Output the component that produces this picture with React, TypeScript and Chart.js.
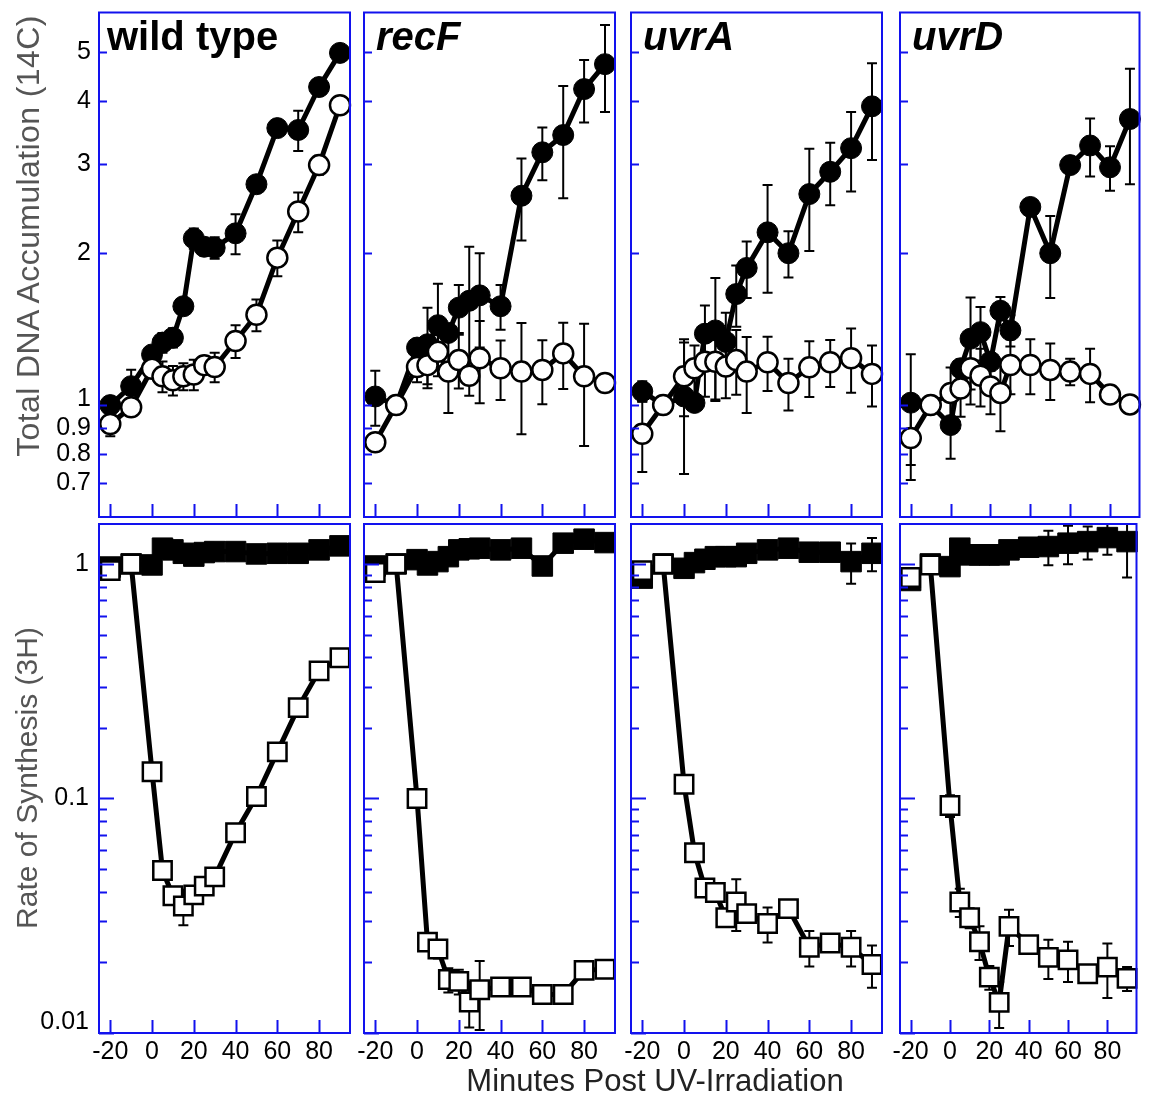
import React, { useEffect, useRef } from "react";
import { Chart, registerables } from "chart.js";

Chart.register(...registerables);

// ---------- data ----------
const minutes = [-20, -10, 0, 5, 10, 15, 20, 25, 30, 40, 50, 60, 70, 80, 90];
const strainNames = ["wild type", "recF", "uvrA", "uvrD"];

// Top row: Total DNA Accumulation (14C)
const wtDnaFilled = [1.0, 1.09, 1.26, 1.33, 1.36, 1.57, 2.14, 2.06, 2.05, 2.19, 2.74, 3.54, 3.51, 4.27, 4.99];
const wtDnaFilledErr = [0.03, 0.085, 0.04, 0.06, 0.06, 0.05, 0.1, 0.08, 0.1, 0.2, 0.05, 0.05, 0.32, 0.05, 0.05];
const wtDnaOpen = [0.917, 0.99, 1.18, 1.14, 1.12, 1.14, 1.15, 1.2, 1.19, 1.34, 1.51, 1.96, 2.42, 2.99, 3.93];
const wtDnaOpenErr = [0.05, 0.03, 0.03, 0.08, 0.075, 0.07, 0.08, 0.05, 0.08, 0.1, 0.11, 0.16, 0.22, 0.13, 0.15];

const recFDnaFilled = [1.04, 1.0, 1.3, 1.32, 1.44, 1.39, 1.56, 1.61, 1.65, 1.57, 2.6, 3.17, 3.43, 4.23, 4.74];
const recFDnaFilledErr = [0.13, 0.03, 0.05, 0.24, 0.3, 0.05, 0.17, 0.45, 0.35, 0.16, 0.48, 0.38, 0.86, 0.6, 0.93];
const recFDnaOpen = [0.844, 1.0, 1.19, 1.2, 1.275, 1.165, 1.228, 1.143, 1.238, 1.183, 1.165, 1.174, 1.266, 1.14, 1.106];
const recFDnaOpenErr = [0.02, 0.02, 0.08, 0.1, 0.1, 0.2, 0.15, 0.1, 0.23, 0.16, 0.29, 0.17, 0.19, 0.31, 0.02];

const uvrADnaFilled = [1.065, 1.0, 1.04, 1.01, 1.385, 1.406, 1.334, 1.66, 1.87, 2.2, 2.0, 2.62, 2.9, 3.23, 3.91];
const uvrADnaFilledErr = [0.05, 0.03, 0.31, 0.03, 0.19, 0.38, 0.19, 0.23, 0.24, 0.53, 0.21, 0.6, 0.41, 0.58, 0.85];
const uvrADnaOpen = [0.877, 1.0, 1.14, 1.183, 1.219, 1.219, 1.192, 1.228, 1.165, 1.216, 1.106, 1.188, 1.216, 1.238, 1.153];
const uvrADnaOpenErr = [0.14, 0.02, 0.19, 0.13, 0.18, 0.2, 0.16, 0.18, 0.2, 0.15, 0.13, 0.15, 0.13, 0.18, 0.16];

const uvrDDnaFilled = [1.011, 1.0, 0.913, 1.183, 1.354, 1.395, 1.219, 1.538, 1.406, 2.47, 2.0, 2.99, 3.27, 2.96, 3.69];
const uvrDDnaFilledErr = [0.25, 0.03, 0.13, 0.05, 0.28, 0.17, 0.05, 0.1, 0.1, 0.05, 0.37, 0.05, 0.43, 0.3, 0.95];
const uvrDDnaOpen = [0.86, 1.0, 1.057, 1.078, 1.183, 1.143, 1.089, 1.057, 1.201, 1.201, 1.174, 1.165, 1.153, 1.049, 1.003];
const uvrDDnaOpenErr = [0.15, 0.02, 0.13, 0.13, 0.18, 0.15, 0.13, 0.17, 0.15, 0.15, 0.15, 0.07, 0.14, 0.03, 0.02];

// Bottom row: Rate of Synthesis (3H)
const wtRateFilled = [0.97, 1.0, 0.99, 1.167, 1.148, 1.11, 1.08, 1.118, 1.129, 1.129, 1.103, 1.11, 1.11, 1.148, 1.194];
const wtRateFilledErr = [0.02, 0.02, 0.02, 0.02, 0.02, 0.02, 0.02, 0.02, 0.02, 0.02, 0.02, 0.02, 0.02, 0.02, 0.02];
const wtRateOpen = [0.936, 1.0, 0.13, 0.0493, 0.0385, 0.0348, 0.0388, 0.0423, 0.0463, 0.0714, 0.102, 0.158, 0.244, 0.35, 0.398];
const wtRateOpenErr = [0, 0, 0.005, 0.003, 0.003, 0.006, 0.003, 0.003, 0.003, 0.004, 0.005, 0.012, 0.015, 0.015, 0.02];

const recFRateFilled = [0.98, 1.0, 1.043, 0.99, 1.023, 1.074, 1.148, 1.16, 1.167, 1.148, 1.167, 0.98, 1.226, 1.275, 1.233];
const recFRateFilledErr = [0.02, 0.02, 0.02, 0.02, 0.02, 0.02, 0.02, 0.02, 0.02, 0.02, 0.02, 0.02, 0.02, 0.02, 0.02];
const recFRateOpen = [0.919, 1.0, 0.1, 0.0244, 0.0228, 0.0169, 0.0166, 0.01355, 0.0153, 0.0157, 0.0157, 0.0146, 0.0146, 0.0185, 0.0187];
const recFRateOpenErr = [0, 0, 0.003, 0.002, 0.002, 0.002, 0.002, 0.003, 0.005, 0.001, 0.001, 0.001, 0.001, 0.001, 0.001];

const uvrARateFilled = [0.87, 1.0, 0.958, 1.013, 1.047, 1.074, 1.074, 1.074, 1.11, 1.148, 1.167, 1.122, 1.122, 1.023, 1.11];
const uvrARateFilledErr = [0.02, 0.02, 0.02, 0.02, 0.02, 0.02, 0.02, 0.02, 0.02, 0.02, 0.02, 0.02, 0.02, 0.2, 0.18];
const uvrARateOpen = [0.936, 1.0, 0.115, 0.0587, 0.0415, 0.0397, 0.031, 0.0362, 0.0323, 0.0293, 0.0339, 0.0232, 0.0242, 0.0232, 0.0196];
const uvrARateOpenErr = [0, 0, 0.003, 0.002, 0.002, 0.002, 0.002, 0.009, 0.002, 0.005, 0.002, 0.004, 0.001, 0.004, 0.004];

const uvrDRateFilled = [0.85, 1.0, 0.974, 1.167, 1.093, 1.093, 1.093, 1.093, 1.148, 1.178, 1.186, 1.226, 1.245, 1.295, 1.245];
const uvrDRateFilledErr = [0.02, 0.02, 0.02, 0.02, 0.02, 0.02, 0.02, 0.02, 0.02, 0.02, 0.2, 0.23, 0.2, 0.2, 0.37];
const uvrDRateOpen = [0.875, 0.99, 0.0933, 0.0362, 0.031, 0.0245, 0.0173, 0.0135, 0.0285, 0.0238, 0.021, 0.0205, 0.0179, 0.0191, 0.0171];
const uvrDRateOpenErr = [0, 0, 0.01, 0.005, 0.003, 0.004, 0.002, 0.003, 0.005, 0.001, 0.004, 0.004, 0.001, 0.005, 0.002];

// ticks
const xTicks = [-20, 0, 20, 40, 60, 80];
const xTickLabels = ["-20", "0", "20", "40", "60", "80"];
const dnaTicks = [0.7, 0.8, 0.9, 1, 2, 3, 4, 5];
const dnaTickLabels = ["0.7", "0.8", "0.9", "1", "2", "3", "4", "5"];
const rateMajorTicks = [0.01, 0.1, 1];
const rateMajorLabels = ["0.01", "0.1", "1"];
const rateMinorTicks = [0.02, 0.03, 0.04, 0.05, 0.06, 0.07, 0.08, 0.09, 0.2, 0.3, 0.4, 0.5, 0.6, 0.7, 0.8, 0.9];

const X_MIN = -25.4;
const X_MAX = 94.8;
const DNA_MIN = 0.6;
const DNA_MAX = 6;
const RATE_MIN = 0.01;
const RATE_MAX = 1.48;

// ---------- layout ----------
const PAGE_W = 1152;
const PAGE_H = 1097;
const COL_LEFT = [99, 364, 631, 900];
const PANEL_W = 251;
const ROW_BOX = [
  { top: 8, bottom: 517 },
  { top: 524, bottom: 1033 },
];
const BLUE = "#1212ee";
const FONT = '"Liberation Sans", Arial, Helvetica, sans-serif';

type Series = { values: number[]; errors: number[]; filled: boolean };
type Panel = { row: number; col: number; filledS: Series; openS: Series };

const topFilled = [wtDnaFilled, recFDnaFilled, uvrADnaFilled, uvrDDnaFilled];
const topFilledErr = [wtDnaFilledErr, recFDnaFilledErr, uvrADnaFilledErr, uvrDDnaFilledErr];
const topOpen = [wtDnaOpen, recFDnaOpen, uvrADnaOpen, uvrDDnaOpen];
const topOpenErr = [wtDnaOpenErr, recFDnaOpenErr, uvrADnaOpenErr, uvrDDnaOpenErr];
const botFilled = [wtRateFilled, recFRateFilled, uvrARateFilled, uvrDRateFilled];
const botFilledErr = [wtRateFilledErr, recFRateFilledErr, uvrARateFilledErr, uvrDRateFilledErr];
const botOpen = [wtRateOpen, recFRateOpen, uvrARateOpen, uvrDRateOpen];
const botOpenErr = [wtRateOpenErr, recFRateOpenErr, uvrARateOpenErr, uvrDRateOpenErr];

const panels: Panel[] = [];
for (let row = 0; row < 2; row++) {
  for (let col = 0; col < 4; col++) {
    panels.push({
      row,
      col,
      filledS: {
        values: row === 0 ? topFilled[col] : botFilled[col],
        errors: row === 0 ? topFilledErr[col] : botFilledErr[col],
        filled: true,
      },
      openS: {
        values: row === 0 ? topOpen[col] : botOpen[col],
        errors: row === 0 ? topOpenErr[col] : botOpenErr[col],
        filled: false,
      },
    });
  }
}

function makePlugin(p: Panel) {
  return {
    id: "panelDecor",
    beforeDatasetsDraw(chart: any) {
      const ctx = chart.ctx;
      const xs = chart.scales.x;
      const ys = chart.scales.y;
      const a = chart.chartArea;
      ctx.save();
      ctx.beginPath();
      ctx.rect(a.left, a.top, a.right - a.left, a.bottom - a.top);
      ctx.clip();
      ctx.strokeStyle = "#000";
      ctx.lineWidth = 2;
      for (const s of [p.filledS, p.openS]) {
        s.values.forEach((v, i) => {
          const e = s.errors[i];
          if (!e) return;
          const x = xs.getPixelForValue(minutes[i]);
          const y1 = ys.getPixelForValue(v + e);
          const y2 = ys.getPixelForValue(Math.max(v - e, 1e-4));
          ctx.beginPath();
          ctx.moveTo(x, y1);
          ctx.lineTo(x, y2);
          ctx.moveTo(x - 5, y1);
          ctx.lineTo(x + 5, y1);
          ctx.moveTo(x - 5, y2);
          ctx.lineTo(x + 5, y2);
          ctx.stroke();
        });
      }
      ctx.restore();
    },
    afterDraw(chart: any) {
      const ctx = chart.ctx;
      const xs = chart.scales.x;
      const ys = chart.scales.y;
      const a = chart.chartArea;
      ctx.save();
      // frame
      ctx.strokeStyle = BLUE;
      ctx.lineWidth = 2;
      ctx.strokeRect(a.left, a.top, a.right - a.left, a.bottom - a.top);
      // x ticks (inward)
      ctx.beginPath();
      xTicks.forEach((t) => {
        const x = Math.round(xs.getPixelForValue(t)) + 0.5;
        ctx.moveTo(x, a.bottom);
        ctx.lineTo(x, a.bottom - 13);
      });
      // y ticks
      if (p.row === 0) {
        dnaTicks.forEach((t) => {
          const y = Math.round(ys.getPixelForValue(t)) + 0.5;
          ctx.moveTo(a.left, y);
          ctx.lineTo(a.left + 8, y);
        });
      } else {
        rateMajorTicks.forEach((t) => {
          const y = Math.round(ys.getPixelForValue(t)) + 0.5;
          ctx.moveTo(a.left, y);
          ctx.lineTo(a.left + 15, y);
        });
        rateMinorTicks.forEach((t) => {
          const y = Math.round(ys.getPixelForValue(t)) + 0.5;
          ctx.moveTo(a.left, y);
          ctx.lineTo(a.left + 8, y);
        });
      }
      ctx.stroke();

      // tick labels
      ctx.fillStyle = "#000";
      ctx.font = `25px ${FONT}`;
      if (p.col === 0) {
        ctx.textAlign = "right";
        ctx.textBaseline = "middle";
        if (p.row === 0) {
          dnaTicks.forEach((t, i) => {
            let y = ys.getPixelForValue(t);
            if (t === 1) y -= 6;
            ctx.fillText(dnaTickLabels[i], a.left - 8, y);
          });
        } else {
          rateMajorTicks.forEach((t, i) => {
            let y = ys.getPixelForValue(t);
            y = Math.min(Math.max(y, a.top + 34), a.bottom - 11);
            ctx.fillText(rateMajorLabels[i], a.left - 10, y);
          });
        }
      }
      if (p.row === 1) {
        ctx.textAlign = "center";
        ctx.textBaseline = "middle";
        xTicks.forEach((t, i) => {
          ctx.fillText(xTickLabels[i], xs.getPixelForValue(t), a.bottom + 19);
        });
      }

      // panel title
      if (p.row === 0) {
        const italic = p.col !== 0;
        ctx.font = `${italic ? "italic " : ""}bold 40px ${FONT}`;
        ctx.textAlign = "left";
        ctx.textBaseline = "alphabetic";
        ctx.fillText(strainNames[p.col], a.left + (italic ? 12 : 8), a.top + 37);
      }
      ctx.restore();
    },
  };
}

function buildConfig(p: Panel): any {
  const left = COL_LEFT[p.col];
  const box = ROW_BOX[p.row];
  const top = p.row === 0;
  const mkData = (vals: number[]) => minutes.map((m, i) => ({ x: m, y: vals[i] }));
  return {
    type: "line",
    data: {
      datasets: [
        {
          label: "open",
          data: mkData(p.openS.values),
          borderColor: "#000",
          borderWidth: 5,
          tension: 0,
          pointStyle: top ? "circle" : "rect",
          pointRadius: top ? 10 : 13,
          pointBackgroundColor: "#fff",
          pointBorderColor: "#000",
          pointBorderWidth: 2.5,
          clip: false,
          order: 0,
        },
        {
          label: "filled",
          data: mkData(p.filledS.values),
          borderColor: "#000",
          borderWidth: 5,
          tension: 0,
          pointStyle: top ? "circle" : "rect",
          pointRadius: top ? 10.5 : 14.5,
          pointBackgroundColor: "#000",
          pointBorderColor: "#000",
          pointBorderWidth: 1,
          clip: false,
          order: 1,
        },
      ],
    },
    options: {
      animation: false,
      responsive: false,
      maintainAspectRatio: false,
      events: [],
      layout: {
        padding: {
          left: left,
          right: PAGE_W - (left + PANEL_W),
          top: box.top,
          bottom: PAGE_H - box.bottom,
        },
      },
      plugins: {
        legend: { display: false },
        tooltip: { enabled: false },
      },
      scales: {
        x: { type: "linear", min: X_MIN, max: X_MAX, display: false },
        y: {
          type: "logarithmic",
          min: top ? DNA_MIN : RATE_MIN,
          max: top ? DNA_MAX : RATE_MAX,
          display: false,
        },
      },
    },
    plugins: [makePlugin(p)],
  };
}

function PanelCanvas({ panel }: { panel: Panel }) {
  const ref = useRef<HTMLCanvasElement | null>(null);
  useEffect(() => {
    if (!ref.current) return;
    const chart = new Chart(ref.current, buildConfig(panel));
    return () => chart.destroy();
  }, [panel]);
  return (
    <canvas
      ref={ref}
      width={PAGE_W}
      height={PAGE_H}
      style={{ position: "absolute", left: 0, top: 0, width: PAGE_W, height: PAGE_H }}
    />
  );
}

export default function App() {
  return (
    <div
      style={{
        position: "absolute",
        left: 0,
        top: 0,
        width: PAGE_W,
        height: PAGE_H,
        background: "#fff",
        overflow: "hidden",
      }}
    >
      {panels.map((p, i) => (
        <PanelCanvas key={i} panel={p} />
      ))}
      <div
        style={{
          position: "absolute",
          left: 28,
          top: 236,
          transform: "translate(-50%, -50%) rotate(-90deg)",
          whiteSpace: "nowrap",
          font: `32px ${FONT}`,
          letterSpacing: "0.4px",
          color: "#555",
        }}
      >
        Total DNA Accumulation (14C)
      </div>
      <div
        style={{
          position: "absolute",
          left: 27,
          top: 778,
          transform: "translate(-50%, -50%) rotate(-90deg)",
          whiteSpace: "nowrap",
          font: `30px ${FONT}`,
          color: "#555",
        }}
      >
        Rate of Synthesis (3H)
      </div>
      <div
        style={{
          position: "absolute",
          left: 655,
          top: 1081,
          transform: "translate(-50%, -50%)",
          whiteSpace: "nowrap",
          font: `31px ${FONT}`,
          color: "#222",
        }}
      >
        Minutes Post UV-Irradiation
      </div>
    </div>
  );
}
